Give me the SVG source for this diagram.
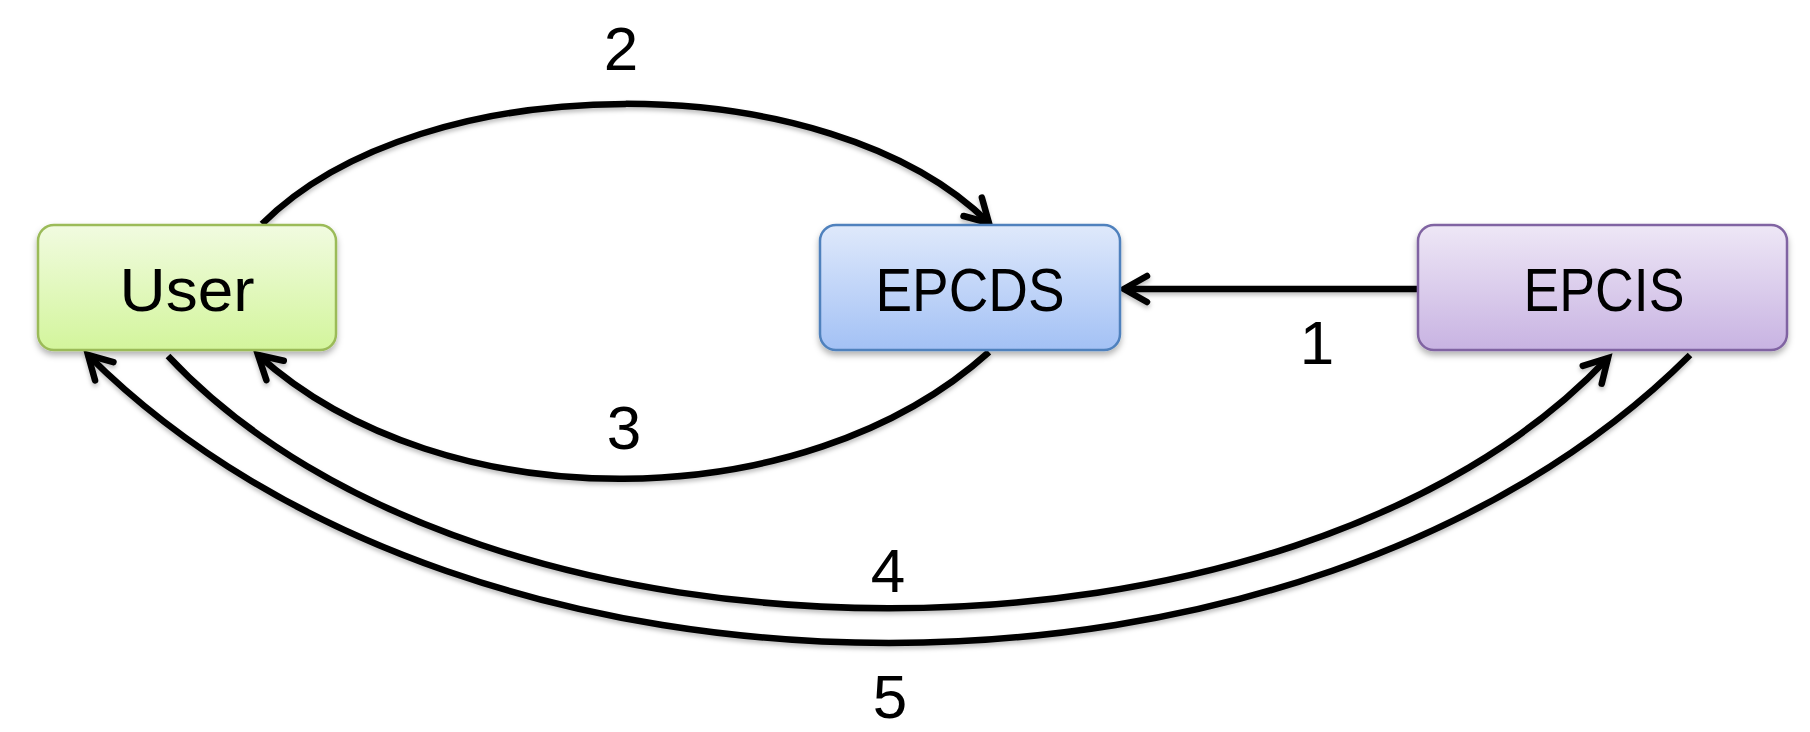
<svg xmlns="http://www.w3.org/2000/svg" width="1810" height="732" viewBox="0 0 1810 732">
<style>
.lbl{font-family:"Liberation Sans",Arial,sans-serif;font-size:62px;fill:#000;text-anchor:middle}
.box{stroke-width:2.5}
.con{fill:none;stroke:#000;stroke-width:6.5;marker-end:url(#arr);filter:url(#lsh)}
</style>
<defs>
<linearGradient id="gU" x1="0" y1="0" x2="0" y2="1"><stop offset="0" stop-color="#f1fbe0"/><stop offset="1" stop-color="#d3f59c"/></linearGradient>
<linearGradient id="gD" x1="0" y1="0" x2="0" y2="1"><stop offset="0" stop-color="#dfe9fb"/><stop offset="1" stop-color="#a3c1f5"/></linearGradient>
<linearGradient id="gI" x1="0" y1="0" x2="0" y2="1"><stop offset="0" stop-color="#eee7f6"/><stop offset="1" stop-color="#c8b3e2"/></linearGradient>
<filter id="sh" x="-10%" y="-10%" width="120%" height="140%"><feDropShadow dx="0" dy="4" stdDeviation="3" flood-color="#000" flood-opacity="0.3"/></filter>
<filter id="lsh" filterUnits="userSpaceOnUse" x="0" y="0" width="1810" height="732"><feDropShadow dx="0" dy="3" stdDeviation="2" flood-color="#000" flood-opacity="0.25"/></filter>
<marker id="arr" markerUnits="userSpaceOnUse" markerWidth="40" markerHeight="40" viewBox="0 0 40 40" refX="30" refY="20" orient="auto">
<path d="M7,7 L30,20 L7,33" fill="none" stroke="#000" stroke-width="6.5" stroke-linecap="round" stroke-linejoin="miter"/>
</marker>
</defs>
<g id="connectors">
<path id="c1" class="con" d="M1417,289 L1124,289"/>
<path id="c2" class="con" d="M262,224 C422,64 829,64 989,223"/>
<path id="c3" class="con" d="M989,352 C804,519 443,522 258,355"/>
<path id="c4" class="con" d="M168,356 C482,692 1294,692 1608,358"/>
<path id="c5" class="con" d="M1690,355 C1306,739 472,739 88,355"/>
<text class="lbl" x="1317" y="364">1</text>
<text class="lbl" x="621" y="70">2</text>
<text class="lbl" x="624" y="449">3</text>
<text class="lbl" x="888" y="592">4</text>
<text class="lbl" x="890" y="718">5</text>
</g>
<g id="user">
<rect class="box" x="38" y="225" width="298" height="125" rx="16" fill="url(#gU)" stroke="#9bbb59" filter="url(#sh)"/>
<text class="lbl" x="187" y="311" textLength="135" lengthAdjust="spacingAndGlyphs">User</text>
</g>
<g id="epcds">
<rect class="box" x="820" y="225" width="300" height="125" rx="16" fill="url(#gD)" stroke="#4f81bd" filter="url(#sh)"/>
<text class="lbl" x="970" y="311" textLength="189" lengthAdjust="spacingAndGlyphs">EPCDS</text>
</g>
<g id="epcis">
<rect class="box" x="1418" y="225" width="369" height="125" rx="16" fill="url(#gI)" stroke="#8064a2" filter="url(#sh)"/>
<text class="lbl" x="1604" y="311" textLength="161" lengthAdjust="spacingAndGlyphs">EPCIS</text>
</g>
</svg>
